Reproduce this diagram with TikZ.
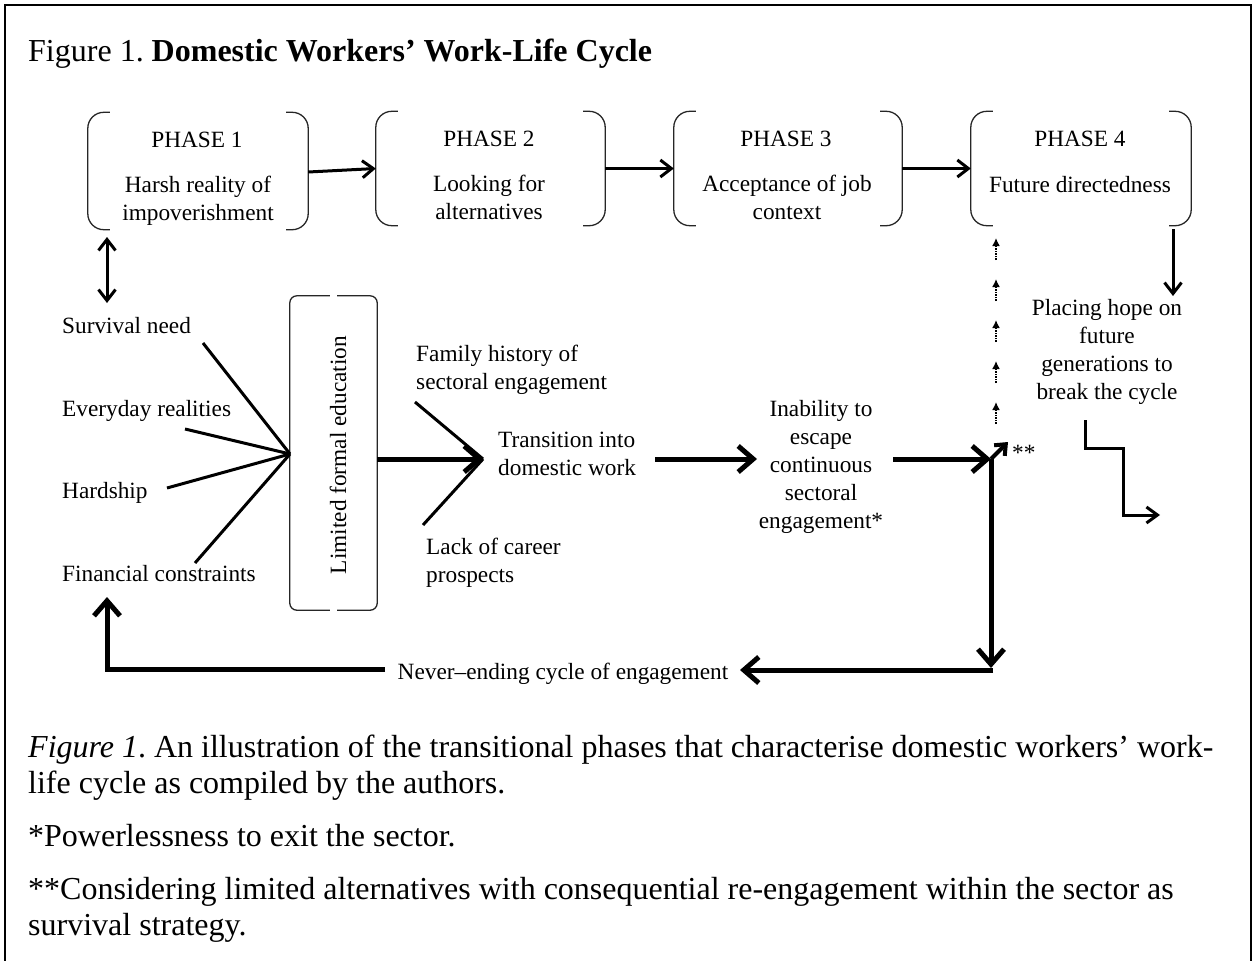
\documentclass[tikz,border=0pt]{standalone}
\usepackage{fontspec}
\setmainfont{Liberation Serif}
\usetikzlibrary{arrows.meta}

% bracket-style box around a node: #1 node, #2 reach of the tails, #3 corner radius
\newcommand\brackbox[3]{%
  \draw[frame, rounded corners=#3] ([xshift=#2]#1.north west) -- (#1.north west)
     -- (#1.south west) -- ([xshift=#2]#1.south west);
  \draw[frame, rounded corners=#3] ([xshift=-#2]#1.north east) -- (#1.north east)
     -- (#1.south east) -- ([xshift=-#2]#1.south east);
}

\begin{document}
\begin{tikzpicture}[x=1pt,y=-1pt,
  dtext/.style={font=\fontsize{23.3}{28}\selectfont, inner sep=0pt},
  ctext/.style={font=\fontsize{32}{36}\selectfont, inner sep=0pt, anchor=base west},
  frame/.style={line width=1.3pt, black!85},
  pbox/.style={minimum width=#1, minimum height=114pt, inner sep=0pt},
  lnk/.style={line width=3pt},
  thinarrow/.style={line width=3pt, -{Straight Barb[length=11pt,width=17pt]}},
  dblarrow/.style={line width=3pt, {Straight Barb[length=11pt,width=17pt]}-{Straight Barb[length=11pt,width=17pt]}},
  heavyarrow/.style={line width=5pt, -{Straight Barb[length=15pt,width=26pt]}},
  diagarrow/.style={line width=4pt, -{Straight Barb[length=9pt,width=15pt]}},
  dotarrow/.style={line width=1.6pt, densely dotted, -{Latex[length=8pt,width=8pt]}},
  steparrow/.style={line width=3pt, line join=miter, -{Straight Barb[length=11pt,width=16pt]}}
]
\useasboundingbox (0,0) rectangle (1256,961);

% outer frame
\draw[line width=2pt] (5,961) -- (5,5) -- (1251,5) -- (1251,961);

% title
\node[ctext] (title) at (28,61) {Figure 1.\ \textbf{Domestic Workers’ Work-Life Cycle}};

% phase boxes
\node[pbox=220pt, minimum height=117pt] (p1) at (198,171) {};
\node[pbox=229pt] (p2) at (490.5,168.5) {};
\node[pbox=228pt] (p3) at (788,168.5) {};
\node[pbox=220pt] (p4) at (1081,168.5) {};
\foreach \n in {p1,p2,p3,p4} {\brackbox{\n}{22}{16}}

\node[dtext, anchor=base] (p1h) at (197,147) {PHASE 1};
\node[dtext, align=center] (p1b) at (198,200.9) {\strut Harsh reality of\\impoverishment\strut};
\node[dtext, anchor=base] (p2h) at (489,146) {PHASE 2};
\node[dtext, align=center] (p2b) at (489,199.9) {\strut Looking for\\alternatives\strut};
\node[dtext, anchor=base] (p3h) at (786,146) {PHASE 3};
\node[dtext, align=center] (p3b) at (787,199.9) {\strut Acceptance of job\\context\strut};
\node[dtext, anchor=base] (p4h) at (1080,146) {PHASE 4};
\node[dtext, anchor=base] (p4b) at (1080,192) {Future directedness};

\draw[thinarrow] ([yshift=-1]p1.east) -- (p2.west);
\draw[thinarrow] (p2.east) -- (p3.west);
\draw[thinarrow] (p3.east) -- (p4.west);

% left column of conditions
\node[dtext, anchor=base west] (surv) at (62,333) {Survival need};
\node[dtext, anchor=base west] (every) at (62,416) {Everyday realities};
\node[dtext, anchor=base west] (hard) at (62,498) {Hardship};
\node[dtext, anchor=base west] (fin) at (62,581) {Financial constraints};

\coordinate (da1) at (107,237);
\coordinate (da2) at (107,303);
\draw[dblarrow] (da1) -- (da2);

% limited formal education
\node[minimum width=87pt, minimum height=314pt, inner sep=0pt] (lfe) at (333.5,453) {};
\brackbox{lfe}{40}{7}
\node[dtext, rotate=90] (lfet) at (338,455) {Limited formal education};

\coordinate (conv) at (290,454);
\coordinate (svs) at (203,343);
\coordinate (evs) at (185,429);
\coordinate (hds) at (167,488);
\coordinate (fcs) at (195,563);
\foreach \s in {svs,evs,hds,fcs} {\draw[lnk] (\s) -- (conv);}

% transition into domestic work
\coordinate (tin) at (483,459);
\coordinate (lfeo) at (377,459);
\draw[heavyarrow] (lfeo) -- (tin);
\node[dtext, align=left, anchor=west] (fam) at (416,369.9) {\strut Family history of\\sectoral engagement\strut};
\node[dtext, align=left, anchor=west] (trans) at (498,455.9) {\strut Transition into\\domestic work\strut};
\node[dtext, align=left, anchor=west] (lack) at (426,562.4) {\strut Lack of career\\prospects\strut};
\coordinate (fams) at (415,402);
\coordinate (lacks) at (423,525);
\draw[lnk] (fams) -- (tin);
\draw[lnk] (lacks) -- (tin);

% inability to escape
\node[dtext, align=center] (inab) at (821,466.9) {\strut Inability to\\escape\\continuous\\sectoral\\engagement*\strut};
\coordinate (a1s) at (655,459);
\coordinate (a1e) at (757,459);
\draw[heavyarrow] (a1s) -- (a1e);

\coordinate (a2s) at (893,459);
\coordinate (junc) at (991,459);
\draw[heavyarrow] (a2s) -- (junc);
\coordinate (diag) at (1008,442);
\draw[diagarrow] (junc) -- (diag);
\node[dtext, anchor=base west] (ast) at (1012,460) {**};

% dotted arrows rising towards phase 4
\foreach \t [count=\i] in {238,279,320,361,402} {
  \coordinate (dt\i) at (996,\t);
  \coordinate (db\i) at (996,\t+22);
  \draw[dotarrow] (db\i) -- (dt\i);
}

% phase 4 outcome
\coordinate (p4d1) at (1173,229);
\coordinate (p4d2) at (1173,296);
\draw[thinarrow] (p4d1) -- (p4d2);
\node[dtext, align=center] (hope) at (1107,351.4) {\strut Placing hope on\\future\\generations to\\break the cycle\strut};
\coordinate (st0) at (1085,420);
\coordinate (st1) at (1160,515);
\draw[steparrow] (st0) -- (1085,448) -- (1123,448) -- (1123,515) -- (st1);

% never-ending cycle
\coordinate (jdown) at (991,668);
\draw[heavyarrow] (junc) -- (jdown);
\node[dtext, anchor=base] (cycle) at (563,679) {Never–ending cycle of engagement};
\coordinate (cr) at (993,670);
\coordinate (cl) at (740,670);
\draw[heavyarrow] (cr) -- (cl);
\coordinate (lb) at (385,669);
\coordinate (lup) at (107,597);
\draw[heavyarrow, line join=miter] (lb) -- (107,669) -- (lup);

% caption
\node[ctext] (cap1) at (28,757) {\textit{Figure 1}.\ An illustration of the transitional phases that characterise domestic workers’ work-};
\node[ctext] (cap2) at (28,793) {life cycle as compiled by the authors.};
\node[ctext] (cap3) at (28,846) {*Powerlessness to exit the sector.};
\node[ctext] (cap4) at (28,899) {**Considering limited alternatives with consequential re-engagement within the sector as};
\node[ctext] (cap5) at (28,935) {survival strategy.};
\end{tikzpicture}
\end{document}
